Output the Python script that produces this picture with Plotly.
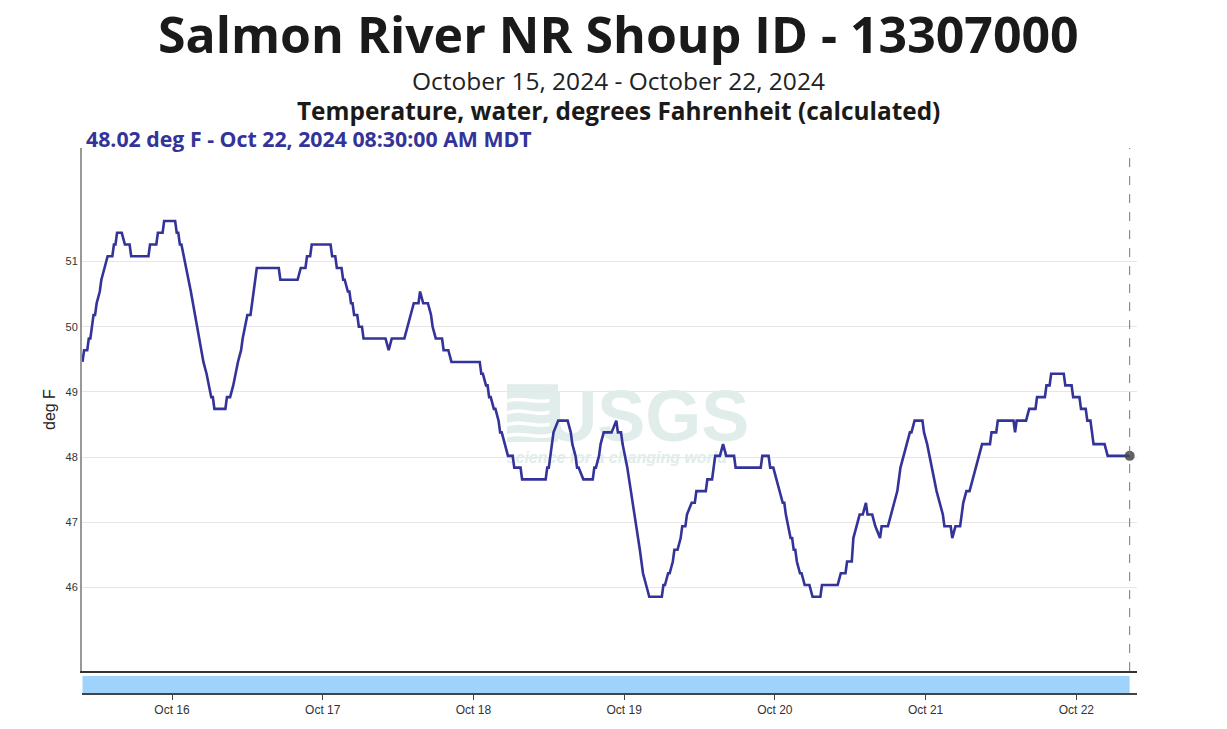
import plotly.graph_objects as go

# ---------------- data ----------------
times = [
    "2024-10-15 09:45", "2024-10-15 10:00", "2024-10-15 10:30", "2024-10-15 10:45", "2024-10-15 11:00",
    "2024-10-15 11:15", "2024-10-15 11:30", "2024-10-15 11:45", "2024-10-15 12:00", "2024-10-15 12:30",
    "2024-10-15 12:45", "2024-10-15 13:15", "2024-10-15 13:45", "2024-10-15 14:30", "2024-10-15 14:45",
    "2024-10-15 15:00", "2024-10-15 15:15", "2024-10-15 16:00", "2024-10-15 16:30", "2024-10-15 17:15",
    "2024-10-15 17:30", "2024-10-15 20:15", "2024-10-15 20:30", "2024-10-15 21:30", "2024-10-15 21:45",
    "2024-10-15 22:30", "2024-10-15 22:45",
    "2024-10-16 00:30", "2024-10-16 00:45", "2024-10-16 01:00", "2024-10-16 01:15", "2024-10-16 01:30",
    "2024-10-16 02:15", "2024-10-16 03:00", "2024-10-16 04:00", "2024-10-16 05:00", "2024-10-16 05:30",
    "2024-10-16 06:15", "2024-10-16 06:30", "2024-10-16 06:45", "2024-10-16 08:30", "2024-10-16 08:45",
    "2024-10-16 09:15", "2024-10-16 09:45", "2024-10-16 10:30", "2024-10-16 11:00", "2024-10-16 11:15",
    "2024-10-16 12:00", "2024-10-16 12:30", "2024-10-16 12:45", "2024-10-16 13:30", "2024-10-16 17:00",
    "2024-10-16 17:15", "2024-10-16 20:00", "2024-10-16 20:30", "2024-10-16 21:15", "2024-10-16 21:30",
    "2024-10-16 22:00", "2024-10-16 22:15",
    "2024-10-17 01:15", "2024-10-17 01:30", "2024-10-17 02:00", "2024-10-17 02:15", "2024-10-17 03:00",
    "2024-10-17 03:15", "2024-10-17 03:30", "2024-10-17 04:00", "2024-10-17 04:15", "2024-10-17 04:30",
    "2024-10-17 04:45", "2024-10-17 05:00", "2024-10-17 05:30", "2024-10-17 05:45", "2024-10-17 06:15",
    "2024-10-17 06:30", "2024-10-17 10:00", "2024-10-17 10:30", "2024-10-17 11:00", "2024-10-17 13:00",
    "2024-10-17 13:30", "2024-10-17 14:00", "2024-10-17 14:30", "2024-10-17 15:15", "2024-10-17 15:30",
    "2024-10-17 16:00", "2024-10-17 16:45", "2024-10-17 17:15", "2024-10-17 17:30", "2024-10-17 18:00",
    "2024-10-17 19:00", "2024-10-17 19:15", "2024-10-17 20:00", "2024-10-17 20:30",
    "2024-10-18 01:00", "2024-10-18 01:15", "2024-10-18 01:30", "2024-10-18 02:00", "2024-10-18 02:15",
    "2024-10-18 02:30", "2024-10-18 02:45", "2024-10-18 03:15", "2024-10-18 03:30", "2024-10-18 04:00",
    "2024-10-18 04:15", "2024-10-18 04:30", "2024-10-18 05:00", "2024-10-18 05:30", "2024-10-18 06:15",
    "2024-10-18 06:30", "2024-10-18 07:30", "2024-10-18 07:45", "2024-10-18 11:30", "2024-10-18 11:45",
    "2024-10-18 12:00", "2024-10-18 12:30", "2024-10-18 12:45", "2024-10-18 13:30", "2024-10-18 15:00",
    "2024-10-18 15:30", "2024-10-18 15:45", "2024-10-18 16:15", "2024-10-18 16:30", "2024-10-18 16:45",
    "2024-10-18 17:30", "2024-10-18 19:00", "2024-10-18 19:15", "2024-10-18 19:30", "2024-10-18 20:00",
    "2024-10-18 20:15", "2024-10-18 20:45", "2024-10-18 22:00", "2024-10-18 22:45", "2024-10-18 23:00",
    "2024-10-18 23:30", "2024-10-18 23:45",
    "2024-10-19 00:30", "2024-10-19 02:30", "2024-10-19 03:00", "2024-10-19 03:30", "2024-10-19 04:00",
    "2024-10-19 06:00", "2024-10-19 06:15", "2024-10-19 06:30", "2024-10-19 07:00", "2024-10-19 07:15",
    "2024-10-19 07:45", "2024-10-19 08:00", "2024-10-19 08:30", "2024-10-19 09:00", "2024-10-19 09:15",
    "2024-10-19 09:45", "2024-10-19 10:00", "2024-10-19 10:45", "2024-10-19 11:15", "2024-10-19 11:30",
    "2024-10-19 13:00", "2024-10-19 13:15", "2024-10-19 14:00", "2024-10-19 14:15", "2024-10-19 14:30",
    "2024-10-19 15:15", "2024-10-19 15:45", "2024-10-19 16:15", "2024-10-19 17:30", "2024-10-19 17:45",
    "2024-10-19 21:45", "2024-10-19 22:00", "2024-10-19 23:00", "2024-10-19 23:15", "2024-10-19 23:45",
    "2024-10-20 00:15", "2024-10-20 00:45", "2024-10-20 01:15", "2024-10-20 01:30", "2024-10-20 01:45",
    "2024-10-20 02:30", "2024-10-20 02:45", "2024-10-20 03:00", "2024-10-20 03:15", "2024-10-20 03:30",
    "2024-10-20 04:00", "2024-10-20 04:15", "2024-10-20 04:45", "2024-10-20 05:30", "2024-10-20 06:00",
    "2024-10-20 07:15", "2024-10-20 07:30", "2024-10-20 10:00", "2024-10-20 10:30", "2024-10-20 11:15",
    "2024-10-20 11:30", "2024-10-20 12:15", "2024-10-20 12:30", "2024-10-20 13:00", "2024-10-20 13:30",
    "2024-10-20 14:00", "2024-10-20 14:30", "2024-10-20 14:45", "2024-10-20 15:30", "2024-10-20 16:00",
    "2024-10-20 16:45", "2024-10-20 17:00", "2024-10-20 18:00", "2024-10-20 18:30", "2024-10-20 19:00",
    "2024-10-20 19:30", "2024-10-20 20:00", "2024-10-20 20:30", "2024-10-20 21:00", "2024-10-20 21:30",
    "2024-10-20 21:45", "2024-10-20 22:15", "2024-10-20 23:30", "2024-10-20 23:45",
    "2024-10-21 00:15", "2024-10-21 01:00", "2024-10-21 01:45", "2024-10-21 02:15", "2024-10-21 02:45",
    "2024-10-21 03:00", "2024-10-21 04:00", "2024-10-21 04:15", "2024-10-21 04:45", "2024-10-21 05:30",
    "2024-10-21 05:45", "2024-10-21 06:00", "2024-10-21 06:30", "2024-10-21 07:00", "2024-10-21 07:30",
    "2024-10-21 08:00", "2024-10-21 08:30", "2024-10-21 09:00", "2024-10-21 10:15", "2024-10-21 10:30",
    "2024-10-21 11:15", "2024-10-21 11:30", "2024-10-21 14:00", "2024-10-21 14:15", "2024-10-21 14:30",
    "2024-10-21 16:00", "2024-10-21 16:30", "2024-10-21 17:30", "2024-10-21 17:45", "2024-10-21 19:00",
    "2024-10-21 19:15", "2024-10-21 19:45", "2024-10-21 20:00", "2024-10-21 22:00", "2024-10-21 22:15",
    "2024-10-21 23:15", "2024-10-21 23:30",
    "2024-10-22 00:30", "2024-10-22 00:45", "2024-10-22 01:30", "2024-10-22 01:45", "2024-10-22 02:15",
    "2024-10-22 02:30", "2024-10-22 02:45", "2024-10-22 04:30", "2024-10-22 05:00", "2024-10-22 08:30",
]
temps_f = [
    49.46, 49.64, 49.64, 49.82, 49.82,
    50.00, 50.18, 50.18, 50.36, 50.54,
    50.72, 50.90, 51.08, 51.08, 51.26,
    51.26, 51.44, 51.44, 51.26, 51.26,
    51.08, 51.08, 51.26, 51.26, 51.44,
    51.44, 51.62,
    51.62, 51.44, 51.44, 51.26, 51.26,
    50.90, 50.54, 50.00, 49.46, 49.28,
    48.92, 48.92, 48.74, 48.74, 48.92,
    48.92, 49.10, 49.46, 49.64, 49.82,
    50.18, 50.18, 50.36, 50.90, 50.90,
    50.72, 50.72, 50.90, 50.90, 51.08,
    51.08, 51.26,
    51.26, 51.08, 51.08, 50.90, 50.90,
    50.72, 50.72, 50.54, 50.54, 50.36,
    50.36, 50.18, 50.18, 50.00, 50.00,
    49.82, 49.82, 49.64, 49.82, 49.82,
    50.00, 50.18, 50.36, 50.36, 50.54,
    50.36, 50.36, 50.18, 50.00, 49.82,
    49.82, 49.64, 49.64, 49.46,
    49.46, 49.28, 49.28, 49.10, 49.10,
    48.92, 48.92, 48.74, 48.74, 48.56,
    48.38, 48.38, 48.20, 48.02, 48.02,
    47.84, 47.84, 47.66, 47.66, 47.84,
    47.84, 48.20, 48.38, 48.56, 48.56,
    48.38, 48.20, 48.02, 47.84, 47.84,
    47.66, 47.66, 47.84, 47.84, 48.02,
    48.20, 48.38, 48.38, 48.56, 48.38,
    48.38, 48.20,
    47.84, 46.58, 46.22, 46.04, 45.86,
    45.86, 46.04, 46.04, 46.22, 46.22,
    46.40, 46.58, 46.58, 46.76, 46.94,
    46.94, 47.12, 47.30, 47.30, 47.48,
    47.48, 47.66, 47.66, 47.84, 48.02,
    48.02, 48.20, 48.02, 48.02, 47.84,
    47.84, 48.02, 48.02, 47.84, 47.84,
    47.66, 47.48, 47.30, 47.30, 47.12,
    46.76, 46.76, 46.58, 46.58, 46.40,
    46.22, 46.22, 46.04, 46.04, 45.86,
    45.86, 46.04, 46.04, 46.22, 46.22,
    46.40, 46.40, 46.76, 46.94, 47.12,
    47.12, 47.30, 47.12, 47.12, 46.94,
    46.76, 46.94, 46.94, 47.12, 47.30,
    47.48, 47.84, 48.02, 48.20, 48.38,
    48.38, 48.56, 48.56, 48.38,
    48.20, 47.84, 47.48, 47.30, 47.12,
    46.94, 46.94, 46.76, 46.94, 46.94,
    47.12, 47.30, 47.48, 47.48, 47.66,
    47.84, 48.02, 48.20, 48.20, 48.38,
    48.38, 48.56, 48.56, 48.38, 48.56,
    48.56, 48.74, 48.74, 48.92, 48.92,
    49.10, 49.10, 49.28, 49.28, 49.10,
    49.10, 48.92,
    48.92, 48.74, 48.74, 48.56, 48.56,
    48.38, 48.20, 48.20, 48.02, 48.02,
]

y_ticks = [46, 47, 48, 49, 50, 51]
x_ticks = ["2024-10-16", "2024-10-17", "2024-10-18", "2024-10-19",
           "2024-10-20", "2024-10-21", "2024-10-22"]
x_tick_labels = ["Oct 16", "Oct 17", "Oct 18", "Oct 19", "Oct 20", "Oct 21", "Oct 22"]

title_text = "Salmon River NR Shoup ID - 13307000"
period_text = "October 15, 2024 - October 22, 2024"
param_text = "Temperature, water, degrees Fahrenheit (calculated)"
latest_text = "48.02 deg F - Oct 22, 2024 08:30:00 AM MDT"
y_title = "deg F"
wm_logo = "USGS"
wm_tagline = "science for a changing world"

# ---------------- styling ----------------
LINE = "#333399"
TICK_FONT = "Liberation Sans, Arial, sans-serif"
HEAD_FONT = "Open Sans, Noto Sans, sans-serif"
WM = "#e1edea"

# figure geometry used to place the decorative watermark icon
L, R, T, B, W, H = 82, 90, 148, 29, 1227, 729
PW, PH = W - L - R, H - T - B


def px(xp, yp):
    return (xp - L) / PW, (H - B - yp) / PH


def wave_path(y0, amp):
    pts = [(507, y0), (522, y0 - amp), (540, y0 + amp), (558, y0 - amp * 0.6)]
    (x0, ya), (x1, yb), (x2, yc), (x3, yd) = [px(a, b) for a, b in pts]
    return f"M {x0},{ya} C {x1},{yb} {x2},{yc} {x3},{yd}"


fig = go.Figure()

# watermark text (drawn first so the series lies over it)
fig.add_trace(go.Scatter(
    x=["2024-10-19 03:40"], y=[48.52], mode="text", text=[wm_logo],
    textfont=dict(family="Liberation Sans Narrow, Arial Narrow, sans-serif", size=72,
                  color=WM, weight="bold"),
    hoverinfo="skip", showlegend=False, xaxis="x", yaxis="y"))
fig.add_trace(go.Scatter(
    x=["2024-10-18 22:50"], y=[47.97], mode="text", text=[wm_tagline],
    textfont=dict(family=TICK_FONT, size=16, color=WM, style="italic", weight="bold"),
    hoverinfo="skip", showlegend=False, xaxis="x", yaxis="y"))

# main series
fig.add_trace(go.Scatter(
    x=times, y=temps_f, mode="lines",
    line=dict(color=LINE, width=2.6),
    hoverinfo="skip", showlegend=False, xaxis="x", yaxis="y"))

# latest point marker
fig.add_trace(go.Scatter(
    x=[times[-1]], y=[temps_f[-1]], mode="markers",
    marker=dict(size=10, color="rgba(70,70,70,0.85)", line=dict(width=0)),
    hoverinfo="skip", showlegend=False, xaxis="x", yaxis="y"))

# data-availability strip
fig.add_trace(go.Scatter(
    x=[times[0], times[-1], times[-1], times[0], times[0]],
    y=[0, 0, 1, 1, 0], mode="lines", fill="toself",
    fillcolor="#9fd3fb", line=dict(width=0, color="#9fd3fb"),
    hoverinfo="skip", showlegend=False, xaxis="x2", yaxis="y2"))

x_range = ["2024-10-15 09:40", "2024-10-22 09:40"]

ix0, iy0 = px(507, 443)
ix1, iy1 = px(558, 385)
shapes = [
    dict(type="line", xref="x", yref="y domain", x0=times[-1], x1=times[-1], y0=0, y1=1,
         line=dict(color="#777777", width=1, dash="dash")),
    dict(type="rect", xref="paper", yref="paper", x0=ix0, x1=ix1, y0=iy0, y1=iy1,
         fillcolor=WM, line=dict(width=0), layer="below"),
]
for yy, amp in [(402, 6), (414, 7), (426, 7), (437, 6)]:
    shapes.append(dict(type="path", xref="paper", yref="paper", path=wave_path(yy, amp),
                       line=dict(color="white", width=3.5), layer="below"))

fig.update_layout(
    width=W, height=H,
    margin=dict(l=L, r=R, t=T, b=B),
    paper_bgcolor="white", plot_bgcolor="white",
    showlegend=False,
    xaxis=dict(domain=[0, 1], anchor="y", range=x_range, type="date",
               showticklabels=False, ticks="", showgrid=False, zeroline=False,
               showline=True, linecolor="#333333", linewidth=1.5),
    yaxis=dict(domain=[0.0489, 1.0], anchor="x", range=[44.72, 52.74],
               tickvals=y_ticks, ticktext=[str(v) for v in y_ticks],
               tickfont=dict(family=TICK_FONT, size=11, color="#333333"),
               ticks="", showgrid=True, gridcolor="#e6e6e6", gridwidth=1, zeroline=False,
               showline=True, linecolor="#999999", linewidth=2,
               title=dict(text=y_title, font=dict(family=TICK_FONT, size=16, color="#222222"),
                          standoff=6)),
    xaxis2=dict(domain=[0, 1], anchor="y2", matches="x", type="date",
                tickvals=x_ticks, ticktext=x_tick_labels,
                tickfont=dict(family=TICK_FONT, size=12, color="#333333"),
                ticks="outside", ticklen=5, tickcolor="#444444",
                showgrid=False, zeroline=False,
                showline=True, linecolor="#444444", linewidth=1.5),
    yaxis2=dict(domain=[0.00906, 0.03986], anchor="x2", range=[0, 1],
                showticklabels=False, ticks="", showgrid=False, zeroline=False,
                showline=False),
    shapes=shapes,
    annotations=[
        dict(text=f"<b>{title_text}</b>", xref="paper", yref="paper", x=0.509, y=1.2065,
             xanchor="center", yanchor="middle", showarrow=False,
             font=dict(family=HEAD_FONT, size=50, color="#1a1a1a")),
        dict(text=period_text, xref="paper", yref="paper", x=0.509, y=1.1232,
             xanchor="center", yanchor="middle", showarrow=False,
             font=dict(family=HEAD_FONT, size=24.5, color="#222222")),
        dict(text=f"<b>{param_text}</b>", xref="paper", yref="paper", x=0.509, y=1.0680,
             xanchor="center", yanchor="middle", showarrow=False,
             font=dict(family=HEAD_FONT, size=24.4, color="#1a1a1a")),
        dict(text=f"<b>{latest_text}</b>", xref="paper", yref="paper", x=0.0019, y=1.0181,
             xanchor="left", yanchor="middle", showarrow=False,
             font=dict(family=HEAD_FONT, size=21.3, color=LINE)),
    ],
)

fig.write_html("out.html")
